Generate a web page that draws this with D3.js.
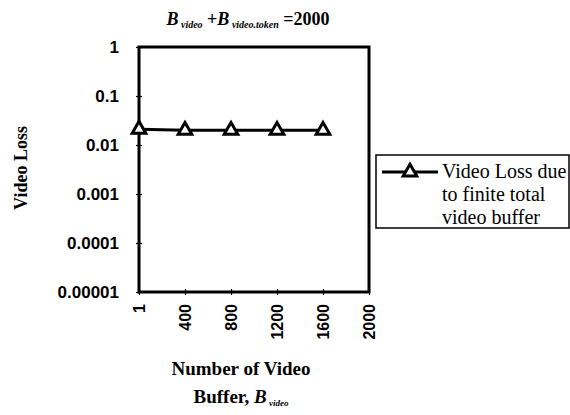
<!DOCTYPE html>
<html>
<head>
<meta charset="utf-8">
<script src="https://cdn.jsdelivr.net/npm/d3@7/dist/d3.min.js"></script>
<style>
  html, body { margin: 0; padding: 0; background: #fff; }
  svg { display: block; }
</style>
</head>
<body>
<svg id="chart" width="570" height="415"></svg>
<script>
// Buffer sizes on the x axis (categories) and the loss measured at each
const bufferLabels = ["1", "400", "800", "1200", "1600", "2000"];
const lossBuffers  = ["1", "400", "800", "1200", "1600"];
const videoLoss    = [0.021, 0.02, 0.02, 0.02, 0.02];
const yTickValues  = [1, 0.1, 0.01, 0.001, 0.0001, 0.00001];
const yTickLabels  = ["1", "0.1", "0.01", "0.001", "0.0001", "0.00001"];
const seriesName   = ["Video Loss due", "to finite total", "video buffer"];

const svg = d3.select("#chart");
const plot = { left: 139, right: 369, top: 47, bottom: 292 };

const x = d3.scalePoint().domain(bufferLabels).range([plot.left, plot.right]);
const y = d3.scaleLog().domain([1e-5, 1]).range([plot.bottom, plot.top]);

const sansBold = "'Liberation Sans', Arial, sans-serif";
const serif = "'Liberation Serif', 'Times New Roman', serif";

// Title: B_video + B_video.token = 2000
const title = svg.append("text")
  .attr("x", 248).attr("y", 25)
  .attr("text-anchor", "middle")
  .attr("font-family", serif).attr("font-weight", "bold").attr("font-size", 18);
title.append("tspan").attr("font-style", "italic").text("B");
title.append("tspan").attr("font-style", "italic").attr("font-size", 10).attr("dy", 3).text(" video");
title.append("tspan").attr("dy", -3).text(" +");
title.append("tspan").attr("font-style", "italic").text("B");
title.append("tspan").attr("font-style", "italic").attr("font-size", 10).attr("dy", 3).text(" video.token");
title.append("tspan").attr("dy", -3).text(" =2000");

// Y axis ticks (crossing marks) and labels
const yAxis = d3.axisLeft(y).tickValues(yTickValues)
  .tickSize(3).tickPadding(17)
  .tickFormat((d, i) => yTickLabels[i]);
const gy = svg.append("g").attr("transform", `translate(${plot.left},0)`).call(yAxis);
gy.select(".domain").remove();
gy.selectAll(".tick line").attr("x1", -3).attr("x2", 3).attr("stroke", "#000").attr("stroke-width", 1.2);
gy.selectAll(".tick text")
  .attr("font-family", sansBold).attr("font-weight", "bold").attr("font-size", 17).attr("fill", "#000");

// X axis ticks and rotated labels
const xAxis = d3.axisBottom(x).tickSize(3).tickPadding(0);
const gx = svg.append("g").attr("transform", `translate(0,${plot.bottom})`).call(xAxis);
gx.select(".domain").remove();
gx.selectAll(".tick line").attr("y1", -3).attr("y2", 3).attr("stroke", "#000").attr("stroke-width", 1.2);
gx.selectAll(".tick text")
  .attr("font-family", sansBold).attr("font-weight", "bold").attr("font-size", 16).attr("fill", "#000")
  .attr("transform", "rotate(-90)")
  .attr("text-anchor", "end")
  .attr("x", -12).attr("y", 0).attr("dy", "0.35em");

// Plot frame
svg.append("rect")
  .attr("x", plot.left).attr("y", plot.top)
  .attr("width", plot.right - plot.left).attr("height", plot.bottom - plot.top)
  .attr("fill", "none").attr("stroke", "#000").attr("stroke-width", 3);

// Series line and open triangle markers
const pts = lossBuffers.map((b, i) => [x(b), y(videoLoss[i])]);
svg.append("path")
  .attr("d", d3.line()(pts))
  .attr("fill", "none").attr("stroke", "#000").attr("stroke-width", 3);

const tri = d3.symbol().type(d3.symbolTriangle).size(80);
svg.selectAll(".marker").data(pts).join("path")
  .attr("class", "marker")
  .attr("transform", d => `translate(${d[0]},${d[1]})`)
  .attr("d", tri())
  .attr("fill", "#fff").attr("stroke", "#000").attr("stroke-width", 3);

// Axis titles
svg.append("text")
  .attr("transform", "translate(27,168) rotate(-90)")
  .attr("text-anchor", "middle")
  .attr("font-family", serif).attr("font-weight", "bold").attr("font-size", 18)
  .text("Video Loss");

const xt = svg.append("text")
  .attr("text-anchor", "middle")
  .attr("font-family", serif).attr("font-weight", "bold").attr("font-size", 19);
xt.append("tspan").attr("x", 241).attr("y", 375).text("Number of Video");
const l2 = xt.append("tspan").attr("x", 241).attr("y", 403);
l2.append("tspan").text("Buffer, ");
l2.append("tspan").attr("font-style", "italic").text("B");
l2.append("tspan").attr("font-style", "italic").attr("font-size", 9).attr("dy", 3).text(" video");

// Legend
const lg = svg.append("g");
lg.append("rect")
  .attr("x", 376).attr("y", 155).attr("width", 193).attr("height", 73)
  .attr("fill", "#fff").attr("stroke", "#000").attr("stroke-width", 1.5);
const ly = 172;
lg.append("line")
  .attr("x1", 382).attr("x2", 438).attr("y1", ly).attr("y2", ly)
  .attr("stroke", "#000").attr("stroke-width", 3);
lg.append("path")
  .attr("transform", `translate(410,${ly})`)
  .attr("d", tri())
  .attr("fill", "#fff").attr("stroke", "#000").attr("stroke-width", 3);
lg.selectAll(".lt").data(seriesName).join("text")
  .attr("class", "lt")
  .attr("x", 442).attr("y", (d, i) => ly + 6 + i * 23)
  .attr("font-family", serif).attr("font-size", 20)
  .text(d => d);
</script>
</body>
</html>
